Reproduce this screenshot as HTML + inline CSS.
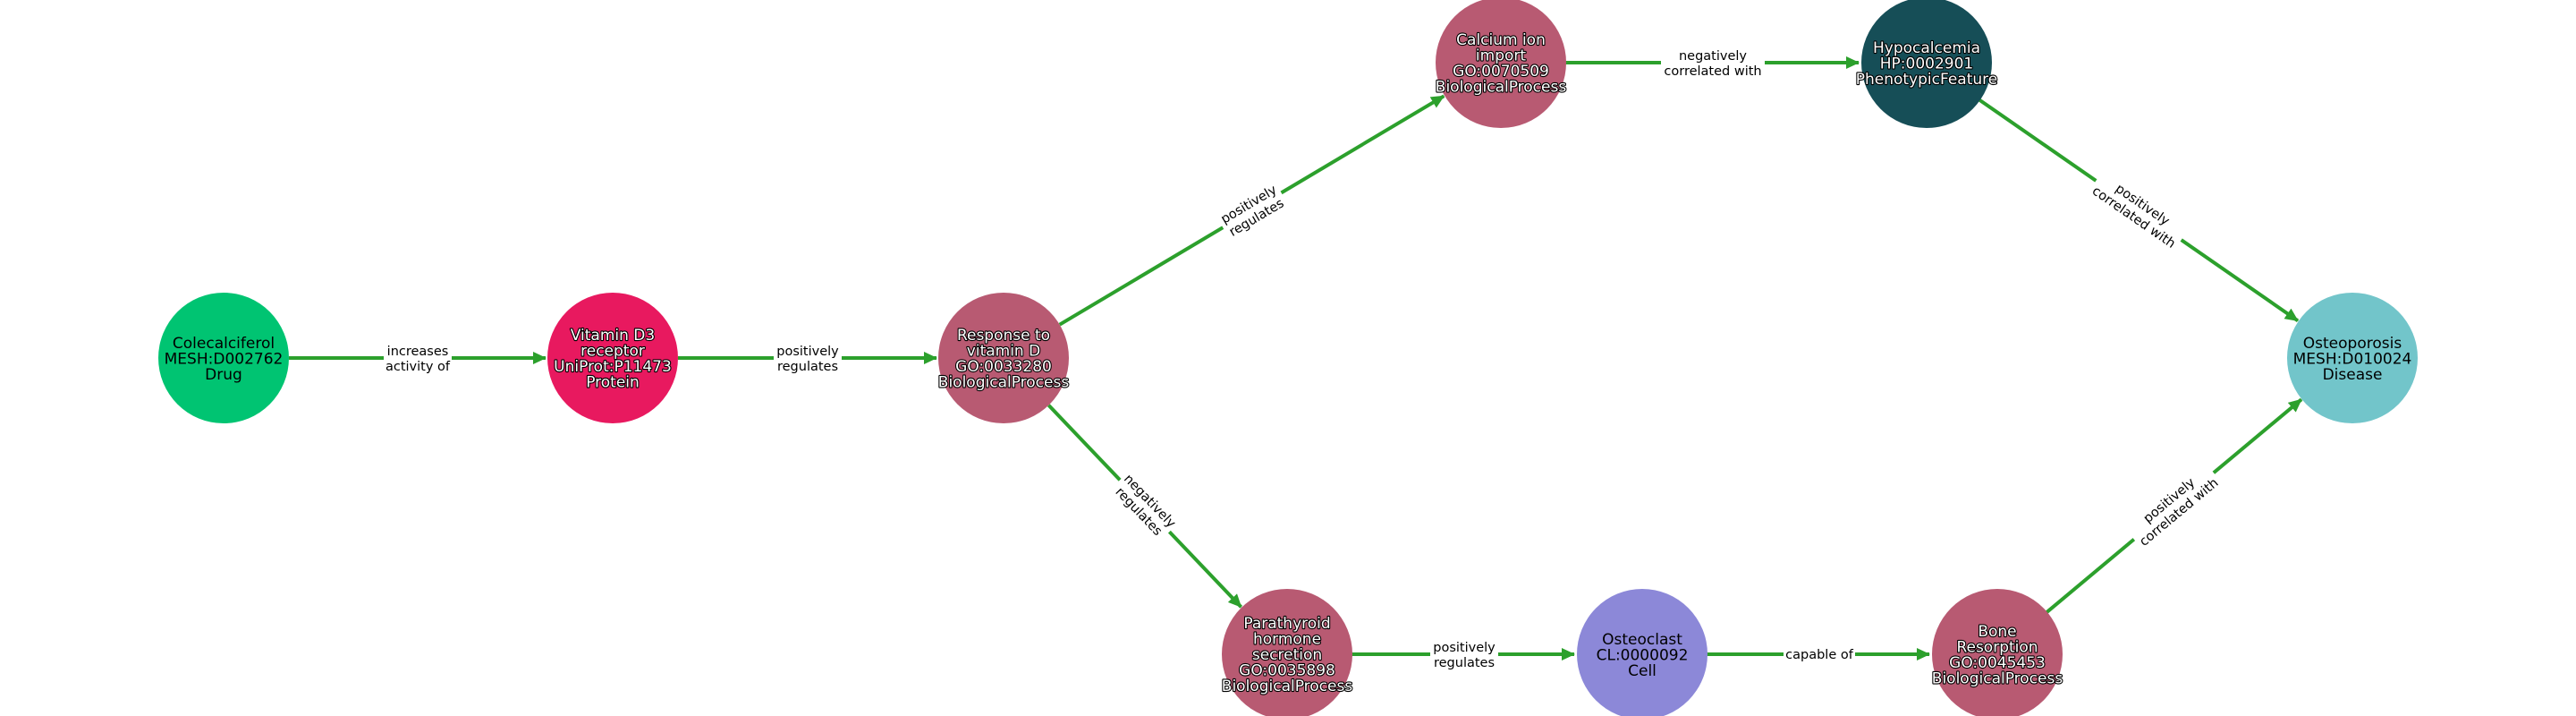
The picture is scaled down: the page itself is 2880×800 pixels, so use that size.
<!DOCTYPE html>
<html><head><meta charset="utf-8"><style>
html,body{margin:0;padding:0;background:#fff;}
svg{display:block;}
.nl{font-family:"DejaVu Sans","Liberation Sans",sans-serif;font-size:17px;text-anchor:middle;}
.w{fill:#fff;stroke:#000;stroke-width:2.2px;paint-order:stroke;stroke-linejoin:round;}
.b{fill:#000;}
.el{font-family:"DejaVu Sans","Liberation Sans",sans-serif;font-size:14.5px;text-anchor:middle;fill:#000;}
.e{stroke:#2ca02c;stroke-width:4;fill:none;}
</style></head><body>
<svg width="2880" height="800" viewBox="0 0 2880 800" xmlns="http://www.w3.org/2000/svg">
<defs>
<marker id="a" markerUnits="userSpaceOnUse" markerWidth="20" markerHeight="20" refX="14" refY="7" orient="auto">
<path d="M0,0 L15,7 L0,14 Z" fill="#2ca02c"/>
</marker>
</defs>
<!-- edges -->
<line class="e" x1="323" y1="400" x2="610" y2="400" marker-end="url(#a)"/>
<line class="e" x1="758" y1="400" x2="1047" y2="400" marker-end="url(#a)"/>
<line class="e" x1="1184.7" y1="362.7" x2="1614.3" y2="107.3" marker-end="url(#a)"/>
<line class="e" x1="1750" y1="70" x2="2078" y2="70" marker-end="url(#a)"/>
<line class="e" x1="2213" y1="111.6" x2="2569" y2="358.4" marker-end="url(#a)"/>
<line class="e" x1="1172.4" y1="452.8" x2="1387.6" y2="678.2" marker-end="url(#a)"/>
<line class="e" x1="1511" y1="731" x2="1760" y2="731" marker-end="url(#a)"/>
<line class="e" x1="1908" y1="731" x2="2157" y2="731" marker-end="url(#a)"/>
<line class="e" x1="2288" y1="684.3" x2="2573" y2="446.3" marker-end="url(#a)"/>

<!-- edge labels -->
<g transform="translate(467,400)"><rect x="-38" y="-18" width="76" height="36" fill="#fff"/>
<text class="el" y="-3">increases</text><text class="el" y="14">activity of</text></g>
<g transform="translate(903,400)"><rect x="-38" y="-18" width="76" height="36" fill="#fff"/>
<text class="el" y="-3">positively</text><text class="el" y="14">regulates</text></g>
<g transform="translate(1400,235) rotate(-30.7)"><rect x="-38" y="-18" width="76" height="36" fill="#fff"/>
<text class="el" y="-3">positively</text><text class="el" y="14">regulates</text></g>
<g transform="translate(1915,70)"><rect x="-58" y="-18" width="116" height="36" fill="#fff"/>
<text class="el" y="-3">negatively</text><text class="el" y="14">correlated with</text></g>
<g transform="translate(2391,235) rotate(34.7)"><rect x="-58" y="-18" width="116" height="36" fill="#fff"/>
<text class="el" y="-3">positively</text><text class="el" y="14">correlated with</text></g>
<g transform="translate(1280,565) rotate(46.3)"><rect x="-40" y="-18" width="80" height="36" fill="#fff"/>
<text class="el" y="-3">negatively</text><text class="el" y="14">regulates</text></g>
<g transform="translate(1637,731)"><rect x="-38" y="-18" width="76" height="36" fill="#fff"/>
<text class="el" y="-3">positively</text><text class="el" y="14">regulates</text></g>
<g transform="translate(2034,731)"><rect x="-40" y="-10" width="80" height="20" fill="#fff"/>
<text class="el" y="5">capable of</text></g>
<g transform="translate(2430,565) rotate(-39.8)"><rect x="-58" y="-18" width="116" height="36" fill="#fff"/>
<text class="el" y="-3">positively</text><text class="el" y="14">correlated with</text></g>

<!-- nodes -->
<circle cx="250" cy="400" r="73" fill="#00c472"/>
<text class="nl b" x="250" y="389">Colecalciferol</text>
<text class="nl b" x="250" y="406.5">MESH:D002762</text>
<text class="nl b" x="250" y="424">Drug</text>

<circle cx="685" cy="400" r="73" fill="#e8195f"/>
<text class="nl w" x="685" y="380">Vitamin D3</text>
<text class="nl w" x="685" y="397.5">receptor</text>
<text class="nl w" x="685" y="415">UniProt:P11473</text>
<text class="nl w" x="685" y="432.5">Protein</text>

<circle cx="1122" cy="400" r="73" fill="#b85a72"/>
<text class="nl w" x="1122" y="380">Response to</text>
<text class="nl w" x="1122" y="397.5">vitamin D</text>
<text class="nl w" x="1122" y="415">GO:0033280</text>
<text class="nl w" x="1122" y="432.5">BiologicalProcess</text>

<circle cx="1678" cy="70" r="73" fill="#b85a72"/>
<text class="nl w" x="1678" y="50">Calcium ion</text>
<text class="nl w" x="1678" y="67.5">import</text>
<text class="nl w" x="1678" y="85">GO:0070509</text>
<text class="nl w" x="1678" y="102.5">BiologicalProcess</text>

<circle cx="2154" cy="70" r="73" fill="#164e57"/>
<text class="nl w" x="2154" y="59">Hypocalcemia</text>
<text class="nl w" x="2154" y="76.5">HP:0002901</text>
<text class="nl w" x="2154" y="94">PhenotypicFeature</text>

<circle cx="2630" cy="400" r="73" fill="#72c5ca"/>
<text class="nl b" x="2630" y="389">Osteoporosis</text>
<text class="nl b" x="2630" y="406.5">MESH:D010024</text>
<text class="nl b" x="2630" y="424">Disease</text>

<circle cx="1439" cy="731" r="73" fill="#b85a72"/>
<text class="nl w" x="1439" y="702">Parathyroid</text>
<text class="nl w" x="1439" y="719.5">hormone</text>
<text class="nl w" x="1439" y="737">secretion</text>
<text class="nl w" x="1439" y="754.5">GO:0035898</text>
<text class="nl w" x="1439" y="772">BiologicalProcess</text>

<circle cx="1836" cy="731" r="73" fill="#8c88d8"/>
<text class="nl b" x="1836" y="720">Osteoclast</text>
<text class="nl b" x="1836" y="737.5">CL:0000092</text>
<text class="nl b" x="1836" y="755">Cell</text>

<circle cx="2233" cy="731" r="73" fill="#b85a72"/>
<text class="nl w" x="2233" y="711">Bone</text>
<text class="nl w" x="2233" y="728.5">Resorption</text>
<text class="nl w" x="2233" y="746">GO:0045453</text>
<text class="nl w" x="2233" y="763.5">BiologicalProcess</text>
</svg>
</body></html>
